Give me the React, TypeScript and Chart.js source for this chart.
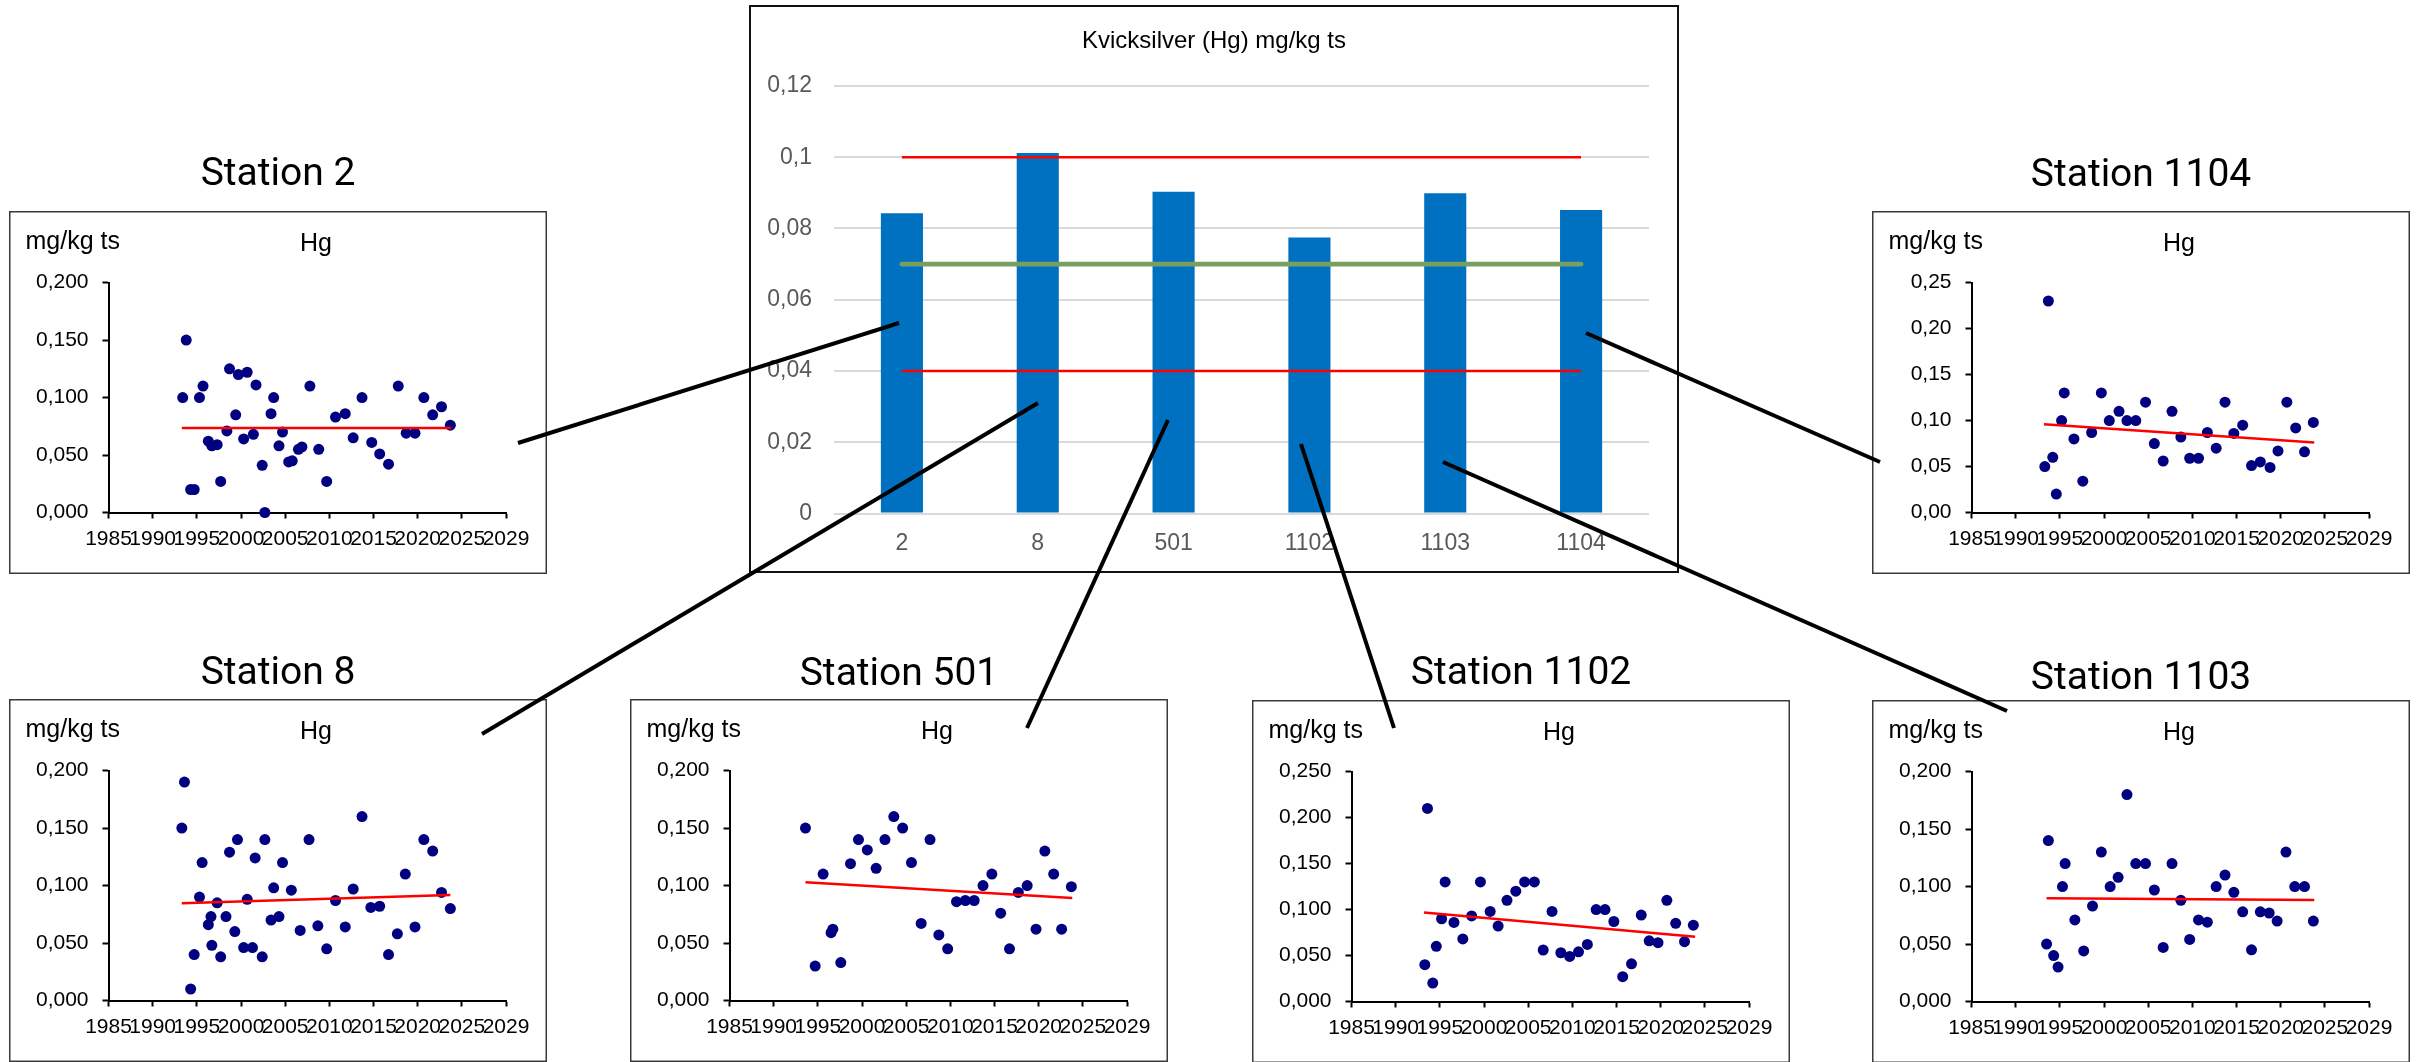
import React, { useEffect, useRef } from 'react';
import { Chart, registerables } from 'chart.js';

Chart.register(...registerables);

// ---------------- DATA ----------------
const STATIONS = ['2', '8', '501', '1102', '1103', '1104'];
const MEAN_HG = [0.0843, 0.1012, 0.0903, 0.0775, 0.0899, 0.0852];
const UPPER_LIMIT_LINE = [0.1, 0.1, 0.1, 0.1, 0.1, 0.1];
const LOWER_LIMIT_LINE = [0.04, 0.04, 0.04, 0.04, 0.04, 0.04];
const REFERENCE_LINE = [0.07, 0.07, 0.07, 0.07, 0.07, 0.07];
const MAIN_Y_TICK_LABELS = ['0', '0,02', '0,04', '0,06', '0,08', '0,1', '0,12'];
const YEAR_TICK_LABELS = ['1985', '1990', '1995', '2000', '2005', '2010', '2015', '2020', '2025', '2029'];

const S2_YEARS = [1993.4, 1993.8, 1994.3, 1994.7, 1995.3, 1995.7, 1996.3, 1996.7, 1997.3, 1997.7, 1998.4, 1998.7, 1999.4, 1999.7, 2000.3, 2000.7, 2001.4, 2001.7, 2002.4, 2002.7, 2003.4, 2003.7, 2004.3, 2004.7, 2005.4, 2005.8, 2006.5, 2006.9, 2007.8, 2008.8, 2009.7, 2010.7, 2011.8, 2012.7, 2013.7, 2014.8, 2015.7, 2016.7, 2017.8, 2018.7, 2019.7, 2020.7, 2021.7, 2022.7, 2023.7];
const S2_HG = [0.100, 0.150, 0.020, 0.020, 0.100, 0.110, 0.062, 0.058, 0.059, 0.027, 0.071, 0.125, 0.085, 0.120, 0.064, 0.122, 0.068, 0.111, 0.041, 0.000, 0.086, 0.100, 0.058, 0.070, 0.044, 0.045, 0.055, 0.057, 0.110, 0.055, 0.027, 0.083, 0.086, 0.065, 0.100, 0.061, 0.051, 0.042, 0.110, 0.069, 0.069, 0.100, 0.085, 0.092, 0.076];
const S2_TREND_YEARS = [1993.3, 2023.8];
const S2_TREND_HG = [0.0736, 0.0736];

const S1104_YEARS = [1993.3, 1993.7, 1994.2, 1994.6, 1995.2, 1995.5, 1996.6, 1997.6, 1998.6, 1999.7, 2000.6, 2001.7, 2002.6, 2003.6, 2004.7, 2005.7, 2006.7, 2007.7, 2008.7, 2009.7, 2010.7, 2011.7, 2012.7, 2013.7, 2014.7, 2015.7, 2016.7, 2017.7, 2018.8, 2019.7, 2020.7, 2021.7, 2022.7, 2023.7];
const S1104_HG = [0.050, 0.230, 0.060, 0.020, 0.100, 0.130, 0.080, 0.034, 0.087, 0.130, 0.100, 0.110, 0.100, 0.100, 0.120, 0.075, 0.056, 0.110, 0.082, 0.059, 0.059, 0.087, 0.070, 0.120, 0.086, 0.095, 0.051, 0.055, 0.049, 0.067, 0.120, 0.092, 0.066, 0.098];
const S1104_TREND_YEARS = [1993.2, 2023.8];
const S1104_TREND_HG = [0.096, 0.076];

const S8_YEARS = [1993.3, 1993.6, 1994.3, 1994.7, 1995.3, 1995.6, 1996.3, 1996.6, 1996.7, 1997.3, 1997.7, 1998.3, 1998.7, 1999.3, 1999.6, 2000.3, 2000.7, 2001.3, 2001.6, 2002.4, 2002.7, 2003.4, 2003.7, 2004.3, 2004.7, 2005.7, 2006.7, 2007.7, 2008.7, 2009.7, 2010.7, 2011.8, 2012.7, 2013.7, 2014.7, 2015.7, 2016.7, 2017.7, 2018.6, 2019.7, 2020.7, 2021.7, 2022.7, 2023.7];
const S8_HG = [0.150, 0.190, 0.010, 0.040, 0.090, 0.120, 0.066, 0.073, 0.048, 0.085, 0.038, 0.073, 0.129, 0.060, 0.140, 0.046, 0.088, 0.046, 0.124, 0.038, 0.140, 0.070, 0.098, 0.073, 0.120, 0.096, 0.061, 0.140, 0.065, 0.045, 0.087, 0.064, 0.097, 0.160, 0.081, 0.082, 0.040, 0.058, 0.110, 0.064, 0.140, 0.130, 0.094, 0.080];
const S8_TREND_YEARS = [1993.3, 2023.7];
const S8_TREND_HG = [0.0845, 0.0917];

const S501_YEARS = [1993.6, 1994.7, 1995.6, 1996.5, 1996.7, 1997.6, 1998.7, 1999.6, 2000.6, 2001.6, 2002.6, 2003.6, 2004.6, 2005.6, 2006.7, 2007.7, 2008.7, 2009.7, 2010.7, 2011.7, 2012.7, 2013.7, 2014.7, 2015.7, 2016.7, 2017.7, 2018.7, 2019.7, 2020.7, 2021.7, 2022.6, 2023.7];
const S501_HG = [0.150, 0.030, 0.110, 0.059, 0.062, 0.033, 0.119, 0.140, 0.131, 0.115, 0.140, 0.160, 0.150, 0.120, 0.067, 0.140, 0.057, 0.045, 0.086, 0.087, 0.087, 0.100, 0.110, 0.076, 0.045, 0.094, 0.100, 0.062, 0.130, 0.110, 0.062, 0.099];
const S501_TREND_YEARS = [1993.6, 2023.8];
const S501_TREND_HG = [0.1028, 0.0891];

const S1102_YEARS = [1993.3, 1993.6, 1994.2, 1994.6, 1995.2, 1995.6, 1996.6, 1997.6, 1998.6, 1999.6, 2000.7, 2001.6, 2002.6, 2003.6, 2004.6, 2005.7, 2006.7, 2007.7, 2008.7, 2009.7, 2010.7, 2011.7, 2012.7, 2013.7, 2014.7, 2015.7, 2016.7, 2017.8, 2018.7, 2019.7, 2020.7, 2021.7, 2022.7, 2023.7];
const S1102_HG = [0.040, 0.210, 0.020, 0.060, 0.090, 0.130, 0.086, 0.068, 0.093, 0.130, 0.098, 0.082, 0.110, 0.120, 0.130, 0.130, 0.056, 0.098, 0.053, 0.049, 0.054, 0.062, 0.100, 0.100, 0.087, 0.027, 0.041, 0.094, 0.066, 0.064, 0.110, 0.085, 0.065, 0.083];
const S1102_TREND_YEARS = [1993.2, 2023.9];
const S1102_TREND_HG = [0.0967, 0.0703];

const S1103_YEARS = [1993.5, 1993.7, 1994.3, 1994.8, 1995.3, 1995.6, 1996.7, 1997.7, 1998.7, 1999.7, 2000.7, 2001.6, 2002.6, 2003.6, 2004.7, 2005.7, 2006.7, 2007.7, 2008.7, 2009.7, 2010.7, 2011.7, 2012.7, 2013.7, 2014.7, 2015.7, 2016.7, 2017.7, 2018.7, 2019.6, 2020.6, 2021.6, 2022.7, 2023.7];
const S1103_HG = [0.050, 0.140, 0.040, 0.030, 0.100, 0.120, 0.071, 0.044, 0.083, 0.130, 0.100, 0.108, 0.180, 0.120, 0.120, 0.097, 0.047, 0.120, 0.088, 0.054, 0.071, 0.069, 0.100, 0.110, 0.095, 0.078, 0.045, 0.078, 0.077, 0.070, 0.130, 0.100, 0.100, 0.070];
const S1103_TREND_YEARS = [1993.5, 2023.8];
const S1103_TREND_HG = [0.0899, 0.0884];

// ---------------- LAYOUT / STYLE ----------------
const PAGE_W = 2422;
const PAGE_H = 1062;
const BOX_W = 538;
const BOX_H = 363;
const TITLE_ZONE = 70;
const AXIS_FONT = '"Liberation Sans", Arial, sans-serif';

type PanelCfg = {
  title: string;
  years: number[];
  values: number[];
  trendYears: number[];
  trendValues: number[];
  yMax: number;
  decimals: number;
  left: number;
  top: number;
  titleGap: number;
};

const PANELS: PanelCfg[] = [
  { title: 'Station 2', years: S2_YEARS, values: S2_HG, trendYears: S2_TREND_YEARS, trendValues: S2_TREND_HG, yMax: 0.2, decimals: 3, left: 9, top: 211, titleGap: 26 },
  { title: 'Station 1104', years: S1104_YEARS, values: S1104_HG, trendYears: S1104_TREND_YEARS, trendValues: S1104_TREND_HG, yMax: 0.25, decimals: 2, left: 1872, top: 211, titleGap: 25 },
  { title: 'Station 8', years: S8_YEARS, values: S8_HG, trendYears: S8_TREND_YEARS, trendValues: S8_TREND_HG, yMax: 0.2, decimals: 3, left: 9, top: 699, titleGap: 15 },
  { title: 'Station 501', years: S501_YEARS, values: S501_HG, trendYears: S501_TREND_YEARS, trendValues: S501_TREND_HG, yMax: 0.2, decimals: 3, left: 630, top: 699, titleGap: 14 },
  { title: 'Station 1102', years: S1102_YEARS, values: S1102_HG, trendYears: S1102_TREND_YEARS, trendValues: S1102_TREND_HG, yMax: 0.25, decimals: 3, left: 1252, top: 700, titleGap: 16 },
  { title: 'Station 1103', years: S1103_YEARS, values: S1103_HG, trendYears: S1103_TREND_YEARS, trendValues: S1103_TREND_HG, yMax: 0.2, decimals: 3, left: 1872, top: 700, titleGap: 11 },
];

const MAIN_BOX = { left: 749, top: 5, width: 930, height: 568 };

// connector annotation lines (page coordinates)
const CONNECTORS = [
  [518, 443, 899, 323],
  [482, 734, 1038, 403],
  [1027, 728, 1168, 420],
  [1394, 728, 1301, 444],
  [2007, 711, 1443, 462],
  [1880, 462, 1586, 333],
];

function Panel({ cfg }: { cfg: PanelCfg }) {
  const ref = useRef<HTMLCanvasElement | null>(null);
  useEffect(() => {
    if (!ref.current) return;
    const decor = {
      id: 'panelDecor',
      afterDraw(chart: any) {
        const ctx = chart.ctx;
        ctx.save();
        ctx.strokeStyle = '#3a3a3a';
        ctx.lineWidth = 1.5;
        ctx.strokeRect(0.75, TITLE_ZONE + 0.75, BOX_W - 1.5, BOX_H - 1.5);
        ctx.fillStyle = '#000';
        ctx.textBaseline = 'alphabetic';
        ctx.font = '400 39px Roboto, "Liberation Sans", sans-serif';
        ctx.textAlign = 'center';
        ctx.fillText(cfg.title, BOX_W / 2, TITLE_ZONE - cfg.titleGap);
        ctx.font = '25px ' + AXIS_FONT;
        ctx.textAlign = 'left';
        ctx.fillText('mg/kg ts', 16.5, TITLE_ZONE + 37.5);
        ctx.textAlign = 'center';
        ctx.fillText('Hg', 307, TITLE_ZONE + 40);
        ctx.restore();
      },
    };
    const chart = new Chart(ref.current, {
      type: 'scatter',
      data: {
        datasets: [
          {
            type: 'line',
            data: cfg.trendYears.map((x, i) => ({ x, y: cfg.trendValues[i] })),
            borderColor: '#FF0000',
            borderWidth: 2.5,
            pointRadius: 0,
            fill: false,
            order: 0,
          } as any,
          {
            type: 'scatter',
            data: cfg.years.map((x, i) => ({ x, y: cfg.values[i] })),
            backgroundColor: '#000080',
            borderColor: '#000080',
            borderWidth: 0,
            pointRadius: 5.5,
            clip: false,
            order: 1,
          } as any,
        ],
      },
      options: {
        animation: false,
        responsive: false,
        devicePixelRatio: 1,
        events: [],
        layout: { padding: { left: 0, right: BOX_W - 497, top: TITLE_ZONE + 71.6, bottom: 0 } },
        plugins: { legend: { display: false }, tooltip: { enabled: false }, title: { display: false } },
        scales: {
          x: {
            type: 'linear',
            min: 1985,
            max: 2030,
            afterFit: (s: any) => { s.height = BOX_H + TITLE_ZONE - (TITLE_ZONE + 301.5); },
            ticks: {
              stepSize: 5,
              autoSkip: false,
              maxRotation: 0,
              minRotation: 0,
              padding: 8,
              color: '#000',
              font: { family: AXIS_FONT, size: 21 },
              callback: (v: any) => YEAR_TICK_LABELS[Math.round((Number(v) - 1985) / 5)],
            },
            grid: { display: true, drawOnChartArea: false, drawTicks: true, tickLength: 6, tickWidth: 2, tickColor: '#000' },
            border: { display: true, color: '#000', width: 2 },
          },
          y: {
            type: 'linear',
            min: 0,
            max: cfg.yMax,
            afterFit: (s: any) => { s.width = 99.5; },
            ticks: {
              stepSize: 0.05,
              padding: 14,
              color: '#000',
              font: { family: AXIS_FONT, size: 21 },
              callback: (v: any) => Number(v).toFixed(cfg.decimals).replace('.', ','),
            },
            grid: { display: true, drawOnChartArea: false, drawTicks: true, tickLength: 6, tickWidth: 2, tickColor: '#000' },
            border: { display: true, color: '#000', width: 2 },
          },
        },
      } as any,
      plugins: [decor],
    });
    return () => chart.destroy();
  }, [cfg]);
  return (
    <canvas
      ref={ref}
      width={BOX_W}
      height={BOX_H + TITLE_ZONE}
      style={{ position: 'absolute', left: cfg.left, top: cfg.top - TITLE_ZONE, width: BOX_W, height: BOX_H + TITLE_ZONE }}
    />
  );
}

function MainChart() {
  const ref = useRef<HTMLCanvasElement | null>(null);
  useEffect(() => {
    if (!ref.current) return;
    const decor = {
      id: 'mainDecor',
      afterDraw(chart: any) {
        const ctx = chart.ctx;
        ctx.save();
        ctx.strokeStyle = '#111';
        ctx.lineWidth = 2;
        ctx.strokeRect(1, 1, MAIN_BOX.width - 2, MAIN_BOX.height - 2);
        ctx.fillStyle = '#000';
        ctx.font = '24px ' + AXIS_FONT;
        ctx.textAlign = 'center';
        ctx.textBaseline = 'alphabetic';
        ctx.fillText('Kvicksilver (Hg) mg/kg ts', MAIN_BOX.width / 2, 43);
        ctx.restore();
      },
    };
    const chart = new Chart(ref.current, {
      type: 'bar',
      data: {
        labels: STATIONS,
        datasets: [
          { type: 'line', data: REFERENCE_LINE, borderColor: 'rgb(120,158,96)', borderWidth: 4.7, borderCapStyle: 'round', pointRadius: 0, order: 0 } as any,
          { type: 'line', data: UPPER_LIMIT_LINE, borderColor: '#FF0000', borderWidth: 2.5, pointRadius: 0, order: 1 } as any,
          { type: 'line', data: LOWER_LIMIT_LINE, borderColor: '#FF0000', borderWidth: 2.5, pointRadius: 0, order: 2 } as any,
          { type: 'bar', data: MEAN_HG, backgroundColor: '#0070C0', borderWidth: 0, categoryPercentage: 1, barPercentage: 0.31, order: 3 } as any,
        ],
      },
      options: {
        animation: false,
        responsive: false,
        devicePixelRatio: 1,
        events: [],
        layout: { padding: { left: 0, right: 30, top: 81, bottom: 0 } },
        plugins: { legend: { display: false }, tooltip: { enabled: false }, title: { display: false } },
        scales: {
          x: {
            afterFit: (s: any) => { s.height = 59.5; },
            ticks: { color: '#595959', font: { family: AXIS_FONT, size: 23 }, padding: 16, maxRotation: 0 },
            grid: { display: false, drawTicks: false },
            border: { display: false },
          },
          y: {
            min: 0,
            max: 0.12,
            afterFit: (s: any) => { s.width = 85; },
            ticks: {
              stepSize: 0.02,
              padding: 22,
              color: '#595959',
              font: { family: AXIS_FONT, size: 23 },
              callback: (v: any) => MAIN_Y_TICK_LABELS[Math.round(Number(v) / 0.02)],
            },
            grid: { color: '#D9D9D9', lineWidth: 2, drawTicks: false },
            border: { display: false },
          },
        },
      } as any,
      plugins: [decor],
    });
    return () => chart.destroy();
  }, []);
  return (
    <canvas
      ref={ref}
      width={MAIN_BOX.width}
      height={MAIN_BOX.height}
      style={{ position: 'absolute', left: MAIN_BOX.left, top: MAIN_BOX.top, width: MAIN_BOX.width, height: MAIN_BOX.height }}
    />
  );
}

export default function App() {
  return (
    <div style={{ position: 'fixed', left: 0, top: 0, width: PAGE_W, height: PAGE_H, overflow: 'hidden', background: '#fff' }}>
      <MainChart />
      {PANELS.map((p) => (
        <Panel key={p.title} cfg={p} />
      ))}
      <svg width={PAGE_W} height={PAGE_H} style={{ position: 'absolute', left: 0, top: 0, pointerEvents: 'none' }}>
        {CONNECTORS.map((c, i) => (
          <line key={i} x1={c[0]} y1={c[1]} x2={c[2]} y2={c[3]} stroke="#000" strokeWidth={4} />
        ))}
      </svg>
    </div>
  );
}
